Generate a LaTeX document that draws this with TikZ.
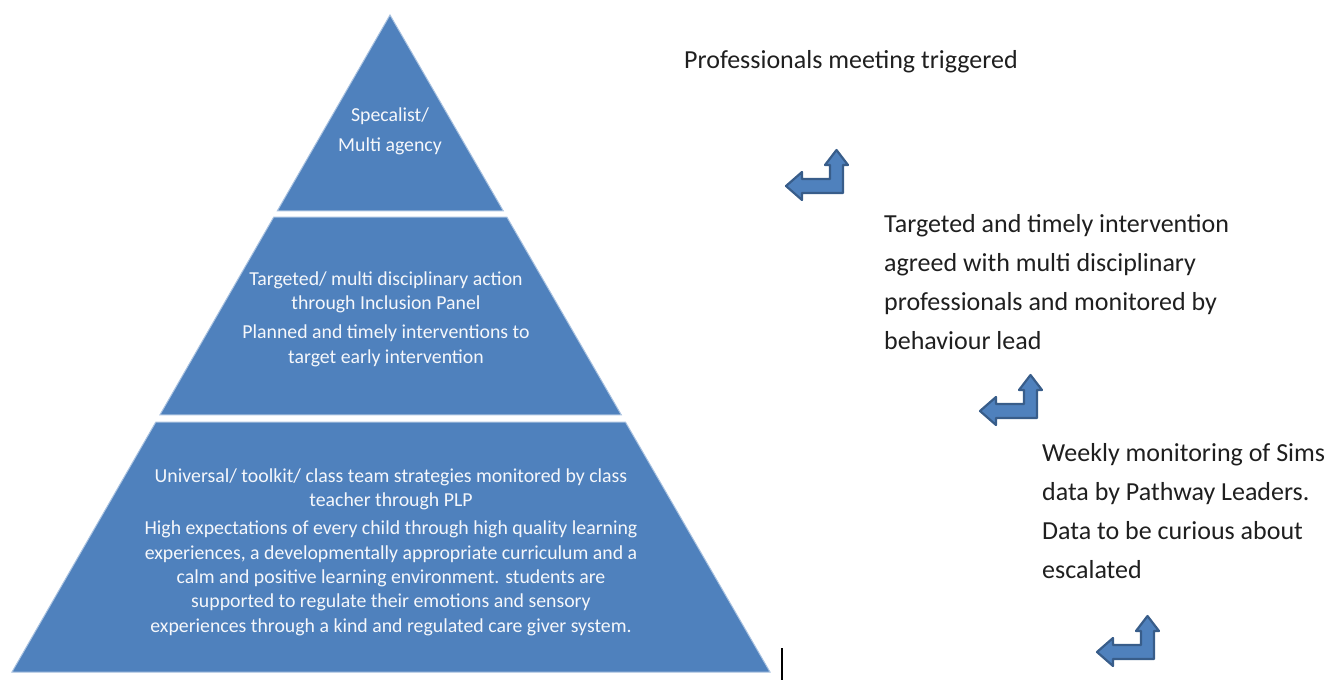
\documentclass[tikz,border=0pt]{standalone}
\usepackage{fontspec}
\setmainfont{Carlito}
\usetikzlibrary{calc}
\definecolor{pyrblue}{HTML}{4F81BD}
\definecolor{pyredge}{HTML}{385D8A}
\definecolor{pyrline}{HTML}{A9C2E0}
\tikzset{
  tier/.style={fill=pyrblue, draw=pyrline, line width=1pt},
  tiertext/.style={text=white!94!pyrblue, align=center, inner sep=0pt,
    font=\fontsize{19.8}{24.3}\selectfont},
  steptext/.style={text=black!88, align=left, anchor=north west, inner sep=0pt,
    font=\fontsize{26}{39}\selectfont},
  bentarrow/.style={fill=pyrblue, draw=pyredge, line width=2.2pt, line join=round},
}
\begin{document}
\begin{tikzpicture}[x=1pt,y=-1pt]
  \useasboundingbox (0,0) rectangle (1331,680);
  \coordinate (apex) at (390,15);
  \coordinate (bl) at (12,672);
  \coordinate (br) at (770,672);
  % pyramid tiers
  \draw[tier] (apex) -- ($(apex)!0.2983!(br)$) -- ($(apex)!0.2983!(bl)$) -- cycle;
  \draw[tier] ($(apex)!0.3075!(bl)$) -- ($(apex)!0.3075!(br)$)
    -- ($(apex)!0.6088!(br)$) -- ($(apex)!0.6088!(bl)$) -- cycle;
  \draw[tier] ($(apex)!0.6195!(bl)$) -- ($(apex)!0.6195!(br)$) -- (br) -- (bl) -- cycle;
  \node[tiertext, font=\fontsize{19.8}{30}\selectfont] (spec) at (390,131)
    {Specalist/\\Multi agency};
  \node[tiertext] (target) at (386,319)
    {Targeted/ multi disciplinary action\\through Inclusion Panel\\[5pt]
     Planned and timely interventions to\\target early intervention};
  \node[tiertext] (univ) at (391,552)
    {Universal/ toolkit/ class team strategies monitored by class\\teacher through PLP\\[4pt]
     High expectations of every child through high quality learning\\
     experiences, a developmentally appropriate curriculum and a\\
     calm and positive learning environment. students are\\
     supported to regulate their emotions and sensory\\
     experiences through a kind and regulated care giver system.};
  % steps on the right
  \node[steptext, anchor=base west] (meet) at (684,68) {Professionals meeting triggered};
  \node[steptext] (agreed) at (884,214)
    {Targeted and timely intervention\\agreed with multi disciplinary\\
     professionals and monitored by\\behaviour lead};
  \node[steptext] (weekly) at (1042,443)
    {Weekly monitoring of Sims\\data by Pathway Leaders.\\
     Data to be curious about\\escalated};
  % bent arrows
  \foreach \p in {(843,193),(1037,418),(1154,659)}
    \draw[bentarrow, shift={\p}] (-57,-7) -- (-41,-21) -- (-41,-14) -- (-13,-14)
      -- (-13,-28) -- (-18,-28) -- (-6.5,-43) -- (5,-28) -- (0,-28) -- (0,0)
      -- (-41,0) -- (-41,7) -- cycle;
  \draw[line width=2.5pt] (782,648) -- (782,680);
\end{tikzpicture}
\end{document}
